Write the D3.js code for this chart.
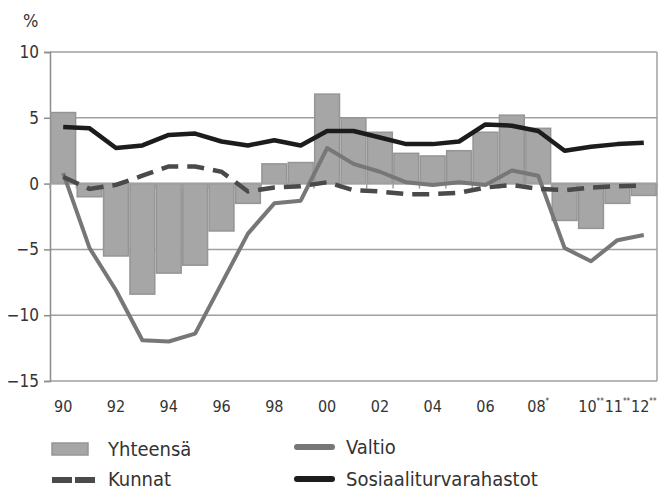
<!DOCTYPE html>
<html>
<head>
<meta charset="utf-8">
<script src="https://cdn.jsdelivr.net/npm/d3@7"></script>
<style>
  body { margin: 0; background: #fff; }
  svg text { font-family: "Liberation Sans Narrow", "DejaVu Sans Condensed", "Open Sans", sans-serif; fill: #333; }
</style>
</head>
<body>
<svg id="chart" width="667" height="490"></svg>
<script>
// data
const years = [1990, 1991, 1992, 1993, 1994, 1995, 1996, 1997, 1998, 1999, 2000, 2001,
               2002, 2003, 2004, 2005, 2006, 2007, 2008, 2009, 2010, 2011, 2012];
const yearLabels = ["90", "", "92", "", "94", "", "96", "", "98", "", "00", "",
                    "02", "", "04", "", "06", "", "08", "", "10", "11", "12"];
const yearMarks = ["", "", "", "", "", "", "", "", "", "", "", "",
                   "", "", "", "", "", "", "*", "", "**", "**", "**"];
const yhteensa = [5.4, -1.0, -5.5, -8.4, -6.8, -6.2, -3.6, -1.5, 1.5, 1.6, 6.8, 5.0,
                  3.9, 2.3, 2.1, 2.5, 3.9, 5.2, 4.2, -2.8, -3.4, -1.5, -0.9];
const valtio = [0.8, -4.9, -8.1, -11.9, -12.0, -11.4, -7.6, -3.8, -1.5, -1.3, 2.7, 1.5,
                0.9, 0.1, -0.1, 0.1, -0.1, 1.0, 0.6, -4.9, -5.9, -4.3, -3.9];
const kunnat = [0.5, -0.4, -0.1, 0.6, 1.3, 1.3, 0.9, -0.6, -0.3, -0.2, 0.1, -0.5,
                -0.6, -0.8, -0.8, -0.7, -0.3, -0.1, -0.4, -0.5, -0.3, -0.2, -0.15];
const sosiaali = [4.3, 4.2, 2.7, 2.9, 3.7, 3.8, 3.2, 2.9, 3.3, 2.9, 4.0, 4.0,
                  3.5, 3.0, 3.0, 3.2, 4.5, 4.4, 4.0, 2.5, 2.8, 3.0, 3.1];
const yTicks = [-15, -10, -5, 0, 5, 10];

const svg = d3.select("#chart");
const margin = { top: 52, right: 10, bottom: 109, left: 50 };
const w = 667 - margin.left - margin.right,
      h = 490 - margin.top - margin.bottom;
const g = svg.append("g").attr("transform", `translate(${margin.left},${margin.top})`);

const x = d3.scaleBand().domain(years).range([0, w]).paddingInner(0.06).paddingOuter(0.03);
const xc = d => x(d) + x.bandwidth() / 2;
const y = d3.scaleLinear().domain([-15, 10]).range([h, 0]);

// gridlines + right edge of frame
g.selectAll(".grid").data(yTicks).join("line")
  .attr("x1", 0).attr("x2", w)
  .attr("y1", d => y(d)).attr("y2", d => y(d))
  .attr("stroke", "#a0a0a0").attr("stroke-width", 1.5);
g.append("line").attr("x1", w).attr("x2", w).attr("y1", 0).attr("y2", h)
  .attr("stroke", "#a0a0a0").attr("stroke-width", 1.5);

// y axis
const yAxis = g.append("g").call(d3.axisLeft(y).tickValues(yTicks).tickSize(6).tickPadding(5));
yAxis.select(".domain").attr("stroke", "#8c8c8c").attr("stroke-width", 1.5);
yAxis.selectAll(".tick line").attr("stroke", "#8c8c8c").attr("stroke-width", 1.5);
yAxis.selectAll(".tick text").style("font-size", "17px").attr("fill", "#333");

// bars
g.selectAll(".bar").data(years).join("rect")
  .attr("x", d => x(d))
  .attr("width", x.bandwidth())
  .attr("y", (d, i) => y(Math.max(0, yhteensa[i])))
  .attr("height", (d, i) => Math.abs(y(yhteensa[i]) - y(0)))
  .attr("fill", "#a6a6a6").attr("stroke", "#959595").attr("stroke-width", 1.5);

// category ticks on zero line
g.selectAll(".xt").data(d3.range(years.length + 1)).join("line")
  .attr("x1", i => i * w / years.length).attr("x2", i => i * w / years.length)
  .attr("y1", y(0)).attr("y2", y(0) + 5)
  .attr("stroke", "#a0a0a0").attr("stroke-width", 1.5);
g.append("line").attr("x1", 0).attr("x2", w).attr("y1", y(0)).attr("y2", y(0))
  .attr("stroke", "#a0a0a0").attr("stroke-width", 1.5);

// lines
const line = d3.line().x((d, i) => xc(years[i])).y(d => y(d));
g.append("path").datum(valtio).attr("d", line)
  .attr("fill", "none").attr("stroke", "#777").attr("stroke-width", 4).attr("stroke-linejoin", "round");
g.append("path").datum(kunnat).attr("d", line)
  .attr("fill", "none").attr("stroke", "#4a4a4a").attr("stroke-width", 4.5)
  .attr("stroke-dasharray", "17,9");
g.append("path").datum(sosiaali).attr("d", line)
  .attr("fill", "none").attr("stroke", "#1c1c1c").attr("stroke-width", 4.5).attr("stroke-linejoin", "round");

// x labels, label + superscript centred on the band
const xl = g.selectAll(".xl").data(years).join("text")
  .attr("x", d => xc(d)).attr("y", h + 31)
  .attr("text-anchor", "middle")
  .style("font-size", "16px");
xl.append("tspan").text((d, i) => yearLabels[i]);
xl.append("tspan").attr("dy", -8).style("font-size", "8px").text((d, i) => yearMarks[i]);

// unit label
svg.append("text").attr("x", 23).attr("y", 27).style("font-size", "18px").text("%");

// legend
const legend = [
  { name: "Yhteensä", type: "bar", x: 52, y: 449, tx: 108, ty: 456 },
  { name: "Valtio", type: "line", color: "#777", x: 297, y: 447, tx: 346, ty: 454 },
  { name: "Kunnat", type: "dash", color: "#4a4a4a", x: 52, y: 480, tx: 108, ty: 486 },
  { name: "Sosiaaliturvarahastot", type: "line", color: "#1c1c1c", x: 297, y: 479, tx: 346, ty: 486 }
];
const lg = svg.selectAll(".lg").data(legend).join("g");
lg.filter(d => d.type === "bar").append("rect")
  .attr("x", d => d.x).attr("y", d => d.y - 6).attr("width", 36).attr("height", 12)
  .attr("fill", "#a6a6a6").attr("stroke", "#959595").attr("stroke-width", 1.5);
lg.filter(d => d.type === "line").append("line")
  .attr("x1", d => d.x).attr("x2", d => d.x + 35).attr("y1", d => d.y).attr("y2", d => d.y)
  .attr("stroke", d => d.color).attr("stroke-width", 6).attr("stroke-linecap", "round");
lg.filter(d => d.type === "dash").append("line")
  .attr("x1", d => d.x).attr("x2", d => d.x + 43).attr("y1", d => d.y).attr("y2", d => d.y)
  .attr("stroke", d => d.color).attr("stroke-width", 6).attr("stroke-dasharray", "20,3");
lg.append("text")
  .attr("x", d => d.tx).attr("y", d => d.ty)
  .style("font-size", "20px")
  .text(d => d.name);
</script>
</body>
</html>
